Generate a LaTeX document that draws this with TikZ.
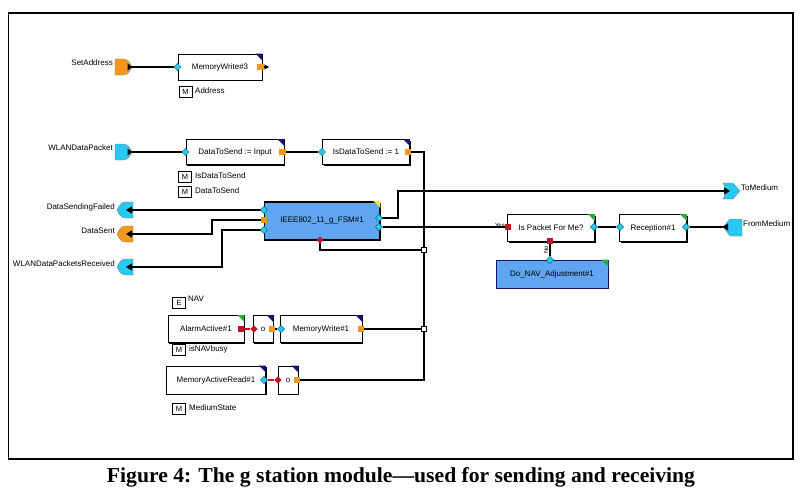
\documentclass[tikz,border=0pt]{standalone}
\usepackage{fontspec}
\newfontfamily\df{Liberation Sans}
\newfontfamily\capfont{Liberation Serif}
\usetikzlibrary{shapes.geometric,arrows.meta,shadows}
\pgfdeclarelayer{back}
\pgfdeclarelayer{front}
\pgfsetlayers{back,main,front}
\definecolor{pcyan}{RGB}{40,200,240}
\definecolor{porange}{RGB}{245,150,30}
\definecolor{pred}{RGB}{190,25,35}
\definecolor{fsmblue}{RGB}{95,165,240}
\definecolor{navy}{RGB}{20,20,110}
\definecolor{cgreen}{RGB}{40,170,60}
\definecolor{cyellow}{RGB}{230,230,60}
\newcommand\cornertri[2]{\fill[#2] (#1.north east) -- ++(-7,0) -- ++(7,7) -- cycle;}
\tikzset{
  blk/.style={draw=black, line width=0.9pt, fill=white, inner sep=0,
    font=\df\fontsize{8}{9}\selectfont,
    drop shadow={shadow xshift=1.2pt, shadow yshift=-1.2pt, fill=black, opacity=1}},
  cport/.style={diamond, fill=pcyan, draw=teal!70!black, line width=0.3pt, inner sep=0, minimum size=7.5pt},
  oport/.style={rectangle, fill=porange, inner sep=0, minimum size=6.5pt},
  rport/.style={rectangle, fill=pred, inner sep=0, minimum size=6.5pt},
  rdia/.style={diamond, fill=pred, inner sep=0, minimum size=7.5pt},
  wire/.style={line width=1.3pt, black},
  arr/.style={wire, -{Triangle[length=6pt,width=7pt]}},
  jn/.style={rectangle, draw, fill=white, line width=0.8pt, inner sep=0, minimum size=4.5pt},
  mbox/.style={draw, line width=0.9pt, inner sep=0, minimum width=13pt, minimum height=11pt, font=\df\fontsize{7.5}{8}\selectfont},
  lbl/.style={font=\df\fontsize{8}{9}\selectfont, inner sep=0},
  srcR/.pic={
    \fill[#1, draw=black!50, line width=0.3pt] (0,-8) -- (8,-8) .. controls (13,-8) and (15,-4) .. (17,0) .. controls (15,4) and (13,8) .. (8,8) -- (0,8) -- cycle;
    \fill[black] (12.5,-3.5) -- (17.5,0) -- (12.5,3.5) -- cycle;
    \coordinate (-tip) at (17,0);},
  sinkL/.pic={
    \fill[#1, draw=black!50, line width=0.3pt] (0,0) .. controls (2,-4) and (4,-8) .. (8,-8) -- (16,-8) -- (16,8) -- (8,8) .. controls (4,8) and (2,4) .. (0,0) -- cycle;
    \coordinate (-tip) at (9,0);},
  toR/.pic={
    \fill[#1, draw=black!50, line width=0.3pt] (0,-8) -- (10,-8) -- (17,0) -- (10,8) -- (0,8) -- (4,0) -- cycle;
    \coordinate (-tip) at (7,0);},
  fromL/.pic={
    \fill[#1, draw=black!50, line width=0.3pt] (0,0) -- (7,-8) -- (19,-8) -- (19,9) -- (7,9) -- cycle;
    \fill[black] (5,-3.5) -- (-0.5,0) -- (5,3.5) -- cycle;
    \coordinate (-tip) at (0,0);},
}
\begin{document}
\begin{tikzpicture}[x=1pt,y=-1pt]
\useasboundingbox (0,0) rectangle (800,495);
\begin{pgfonlayer}{back}
\fill[white] (0,0) rectangle (800,495);
\draw[line width=1.5pt] (8.5,13) rectangle (793,459);

% ---------- blocks ----------
\node[blk, minimum width=84pt, minimum height=26pt] (mw3) at (220,67) {MemoryWrite\#3};
\node[blk, minimum width=98pt, minimum height=25pt] (dts) at (235,152) {DataToSend := Input};
\node[blk, minimum width=87pt, minimum height=25pt] (idts) at (366,152) {IsDataToSend := 1};
\node[blk, fill=fsmblue, line width=1.8pt, minimum width=115pt, minimum height=38pt] (fsm) at (322,221) {IEEE802\_11\_g\_FSM\#1};
\node[blk, minimum width=87pt, minimum height=27pt] (ipfm) at (551,228) {Is Packet For Me?};
\node[blk, minimum width=67pt, minimum height=27pt] (rec) at (653,228) {Reception\#1};
\node[blk, draw=navy, line width=0.7pt, fill=fsmblue, minimum width=112pt, minimum height=28pt] (dna) at (552,274) {Do\_NAV\_Adjustment\#1};
\node[blk, minimum width=76pt, minimum height=27pt] (aa) at (206,329) {AlarmActive\#1};
\node[blk, minimum width=20pt, minimum height=27pt] (o1) at (263,329) {o};
\node[blk, minimum width=82pt, minimum height=27pt] (mw1) at (321,329) {MemoryWrite\#1};
\node[blk, minimum width=99pt, minimum height=28pt] (mar) at (216,380) {MemoryActiveRead\#1};
\node[blk, minimum width=20pt, minimum height=28pt] (o2) at (288,380) {o};

\cornertri{mw3}{navy}
\cornertri{dts}{navy}
\cornertri{idts}{navy}
\cornertri{fsm}{cyellow}
\cornertri{ipfm}{cgreen}
\cornertri{rec}{cgreen}
\cornertri{dna}{cgreen}
\cornertri{aa}{cgreen}
\cornertri{o1}{navy}
\cornertri{mw1}{navy}
\cornertri{mar}{navy}
\cornertri{o2}{navy}

% ---------- external ports ----------
\pic (sa) at (115,67) {srcR=porange};
\pic (wdp) at (115,152) {srcR=pcyan};
\pic (dsf) at (117,210) {sinkL=pcyan};
\pic (dsn) at (117,234) {sinkL=porange};
\pic (wdr) at (117,267) {sinkL=pcyan};
\pic (tm) at (723,191) {toR=pcyan};
\pic (fm) at (723,227) {fromL=pcyan};
\end{pgfonlayer}

\node[lbl, anchor=east] (lsa) at (113,63) {SetAddress};
\node[lbl, anchor=east] (lwdp) at (113,148) {WLANDataPacket};
\node[lbl, anchor=east] (ldsf) at (115,207) {DataSendingFailed};
\node[lbl, anchor=east] (ldsn) at (115,231) {DataSent};
\node[lbl, anchor=east] (lwdr) at (115,264) {WLANDataPacketsReceived};
\node[lbl, anchor=west] (ltm) at (741,188) {ToMedium};
\node[lbl, anchor=west] (lfm) at (743,224) {FromMedium};

% ---------- parameter boxes ----------
\node[mbox] (m1) at (185.5,91.5) {M};
\node[lbl, anchor=west] (m1t) at (195,91) {Address};
\node[mbox] (m2) at (185,176.5) {M};
\node[lbl, anchor=west] (m2t) at (195,176) {IsDataToSend};
\node[mbox] (m3) at (185,192) {M};
\node[lbl, anchor=west] (m3t) at (195,191) {DataToSend};
\node[mbox] (e1) at (179,303) {E};
\node[lbl, anchor=west] (e1t) at (188,299) {NAV};
\node[mbox] (m4) at (179,350) {M};
\node[lbl, anchor=west] (m4t) at (189,349) {isNAVbusy};
\node[mbox] (m5) at (179,409) {M};
\node[lbl, anchor=west] (m5t) at (189,408) {MediumState};

% ---------- ports, junctions (front layer) ----------
\begin{pgfonlayer}{front}
\node[jn] (jn1) at (424,250) {};
\node[jn] (jn2) at (424,329) {};
\node[cport] (mw3i) at (mw3.west) {};
\node[oport] (mw3o) at ([xshift=-2pt]mw3.east) {};
\node[cport] (dtsi) at (dts.west) {};
\node[oport] (dtso) at ([xshift=-2pt]dts.east) {};
\node[cport] (idtsi) at (idts.west) {};
\node[oport] (idtso) at ([xshift=-2pt]idts.east) {};
\node[cport] (fl1) at (264,210) {};
\node[oport] (fl2) at (264,220) {};
\node[cport] (fl3) at (264,230) {};
\node[cport] (fr1) at (379,218) {};
\node[cport] (fr2) at (379,227) {};
\node[rdia] (fb) at (320,240) {};
\node[rport] (ipfmi) at (508,227) {};
\node[cport] (ipfmo) at (594,227) {};
\node[rport] (ipfmb) at (550,241) {};
\node[cport] (reci) at (620,227) {};
\node[cport] (reco) at (686,227) {};
\node[cport] (dnat) at (550,260) {};
\node[rport] (aao) at (241,329) {};
\node[rdia] (o1i) at (254,329) {};
\node[oport] (o1o) at (272,329) {};
\node[cport] (mw1i) at (281,329) {};
\node[oport] (mw1o) at (361,329) {};
\node[cport] (maro) at (264,380) {};
\node[rdia] (o2i) at (278,380) {};
\node[oport] (o2o) at (297,380) {};
\end{pgfonlayer}

% ---------- bends ----------
\coordinate (k1) at (212,234);
\coordinate (k2) at (222,267);
\coordinate (k3) at (398,191);
\coordinate (mw3end) at (269,67);

% ---------- wires ----------
\draw[wire] (sa-tip) -- (mw3i);
\draw[wire, -{Stealth[length=5pt,width=5pt]}] (mw3o.center) -- (mw3end);
\draw[wire] (wdp-tip) -- (dtsi);
\draw[wire] (dtso) -- (idtsi);
\draw[wire] (idtso.center) -| (jn1.center);
\draw[wire] (jn1) -- (jn2);
\draw[wire] (jn2.center) |- (o2o.center);
\draw[wire] (fb.center) |- (jn1.center);
\draw[wire] (mw1o) -- (jn2);
\draw[arr] (fl1.center) -- (dsf-tip);
\draw[arr] (fl2.center) -| (k1) -- (dsn-tip);
\draw[arr] (fl3.center) -| (k2) -- (wdr-tip);
\draw[arr] (fr1.center) -| (k3) -- (tm-tip);
\draw[wire] (fr2) -- (ipfmi);
\draw[wire] (ipfmo) -- (reci);
\draw[wire] (reco) -- (fm-tip);
\draw[wire] (ipfmb) -- (dnat);
\draw[wire, pred] (aao) -- (o1i);
\draw[wire] (o1o) -- (mw1i);
\draw[wire, pred] (maro) -- (o2i);

\node[font=\df\fontsize{6}{6}\selectfont, inner sep=0, anchor=east] (yes) at (505,225) {Yes};
\node[font=\df\fontsize{6}{6}\selectfont, inner sep=0, rotate=90] (no) at (546,250) {No};

% ---------- caption ----------
\node[anchor=base, inner sep=0] (cap) at (401,482) {\resizebox{588pt}{15pt}{\capfont\bfseries\fontsize{20}{24}\selectfont Figure 4: The g station module—used for sending and receiving}};
\end{tikzpicture}
\end{document}
